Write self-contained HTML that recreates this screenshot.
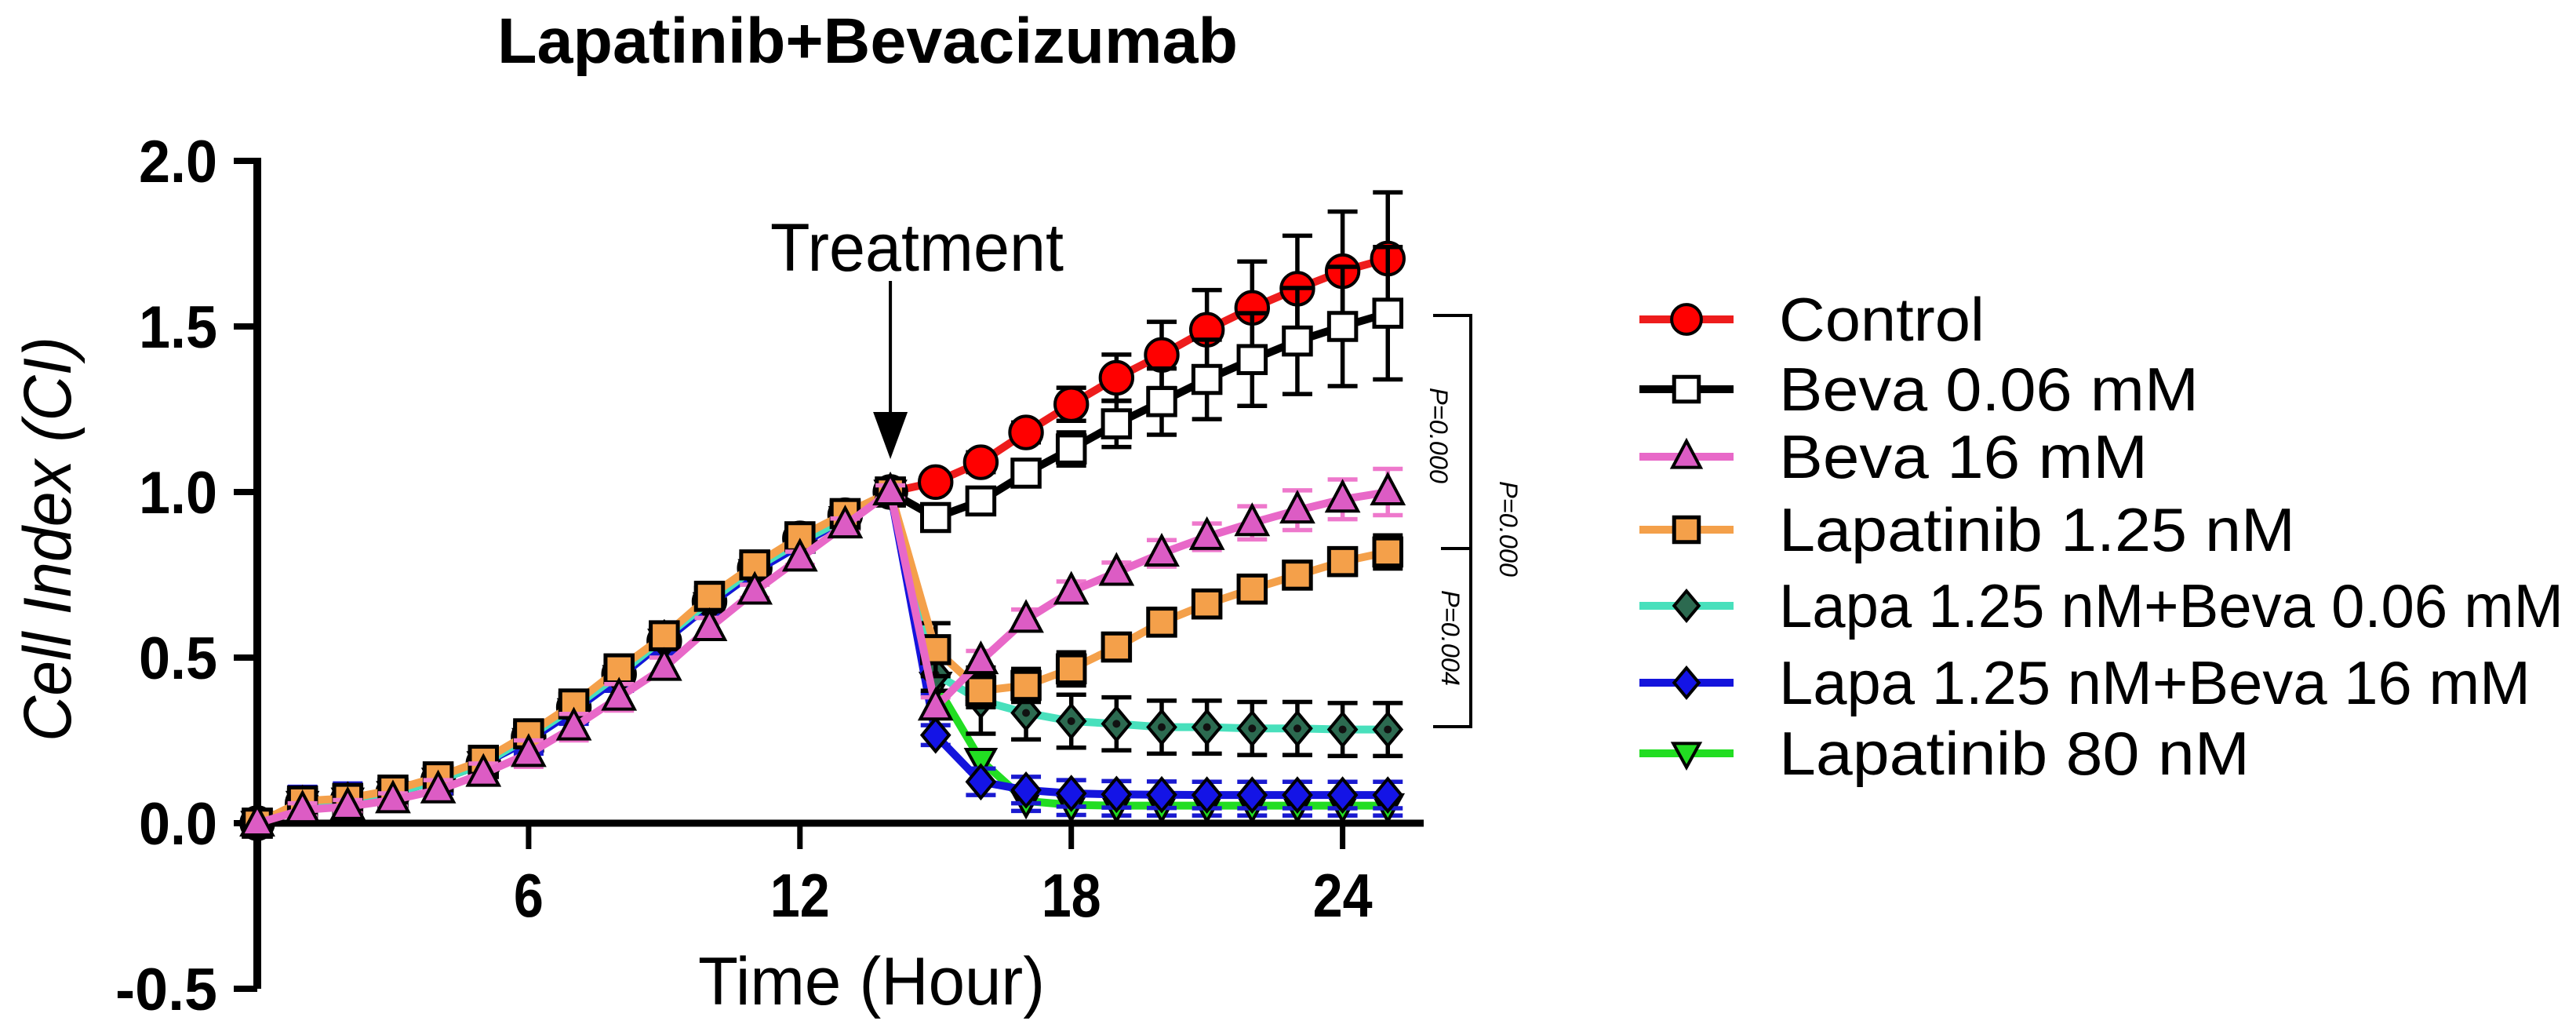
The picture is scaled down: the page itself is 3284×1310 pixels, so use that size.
<!DOCTYPE html>
<html><head><meta charset="utf-8">
<style>
html,body{margin:0;padding:0;background:#fff;}
svg{display:block;font-family:"Liberation Sans",sans-serif;}
</style></head>
<body>
<svg id="chart" width="3284" height="1310" viewBox="0 0 3284 1310" xmlns="http://www.w3.org/2000/svg">
<text x="1106" y="80" text-anchor="middle" font-size="82" font-weight="bold" textLength="944" lengthAdjust="spacingAndGlyphs">Lapatinib+Bevacizumab</text>
<g id="axes"></g>
<g id="series"></g>
<g id="annot"></g>
<g id="legend"></g>
</svg>
<script>
const hours = [0,1,2,3,4,5,6,7,8,9,10,11,12,13,14,15,16,17,18,19,20,21,22,23,24,25];
const yTicks = [-0.5,0,0.5,1.0,1.5,2.0];
const yTickLabels = ["-0.5","0.0","0.5","1.0","1.5","2.0"];
const xTicks = [6,12,18,24];
const xTickLabels = ["6","12","18","24"];
const seriesNames = ["Control","Beva 0.06 mM","Beva 16 mM","Lapatinib 1.25 nM","Lapa 1.25 nM+Beva 0.06 mM","Lapa 1.25 nM+Beva 16 mM","Lapatinib 80 nM"];
const controlVals = [0,0.06,0.07,0.09,0.13,0.18,0.26,0.35,0.45,0.55,0.67,0.77,0.86,0.93,1.0,1.03,1.09,1.18,1.265,1.345,1.414,1.49,1.556,1.614,1.667,1.705];
const controlErr  = [0,0.03,0.03,0.03,0.03,0.03,0.03,0.03,0.03,0.03,0.03,0.02,0.02,0.02,0.02,0.02,0.03,0.03,0.05,0.07,0.1,0.12,0.14,0.16,0.18,0.2];
const beva006Vals = [0,0.06,0.07,0.09,0.13,0.18,0.26,0.35,0.45,0.55,0.67,0.77,0.86,0.93,1.0,0.923,0.973,1.057,1.13,1.206,1.273,1.34,1.40,1.456,1.50,1.54];
const beva006Err  = [0,0.03,0.03,0.03,0.03,0.03,0.03,0.03,0.03,0.03,0.03,0.02,0.02,0.02,0.02,0.02,0.02,0.03,0.05,0.07,0.1,0.12,0.14,0.16,0.18,0.2];
const beva16Vals = [0,0.04,0.05,0.07,0.10,0.15,0.21,0.29,0.38,0.47,0.59,0.70,0.80,0.90,1.0,0.35,0.49,0.615,0.70,0.757,0.815,0.865,0.907,0.945,0.978,1.0];
const beva16Err  = [0,0.02,0.02,0.02,0.03,0.03,0.04,0.04,0.04,0.03,0.03,0.02,0.02,0.02,0.02,0.03,0.03,0.03,0.03,0.03,0.04,0.04,0.05,0.06,0.06,0.07];
const lapa125Vals = [0,0.067,0.075,0.10,0.14,0.19,0.27,0.36,0.466,0.566,0.685,0.78,0.865,0.935,1.0,0.524,0.40,0.416,0.466,0.532,0.607,0.662,0.707,0.749,0.79,0.819];
const lapa125Err  = [0,0.02,0.02,0.02,0.02,0.02,0.03,0.03,0.04,0.04,0.04,0.03,0.02,0.02,0.02,0.08,0.05,0.05,0.05,0.04,0.04,0.04,0.04,0.04,0.04,0.05];
const comboLowVals = [0,0.06,0.07,0.09,0.13,0.18,0.26,0.35,0.45,0.56,0.67,0.77,0.85,0.92,1.0,0.45,0.37,0.333,0.308,0.30,0.29,0.29,0.286,0.286,0.283,0.283];
const comboLowErr  = [0,0.03,0.03,0.03,0.03,0.03,0.03,0.03,0.03,0.03,0.03,0.02,0.02,0.02,0.02,0.05,0.1,0.08,0.08,0.08,0.08,0.08,0.08,0.08,0.08,0.08];
const comboHighVals = [0,0.06,0.07,0.09,0.13,0.18,0.25,0.34,0.44,0.55,0.66,0.76,0.84,0.92,1.0,0.266,0.125,0.10,0.09,0.087,0.086,0.085,0.085,0.085,0.085,0.085];
const comboHighErr  = [0,0.05,0.05,0.04,0.04,0.03,0.04,0.04,0.04,0.04,0.04,0.02,0.02,0.02,0.02,0.03,0.04,0.04,0.04,0.04,0.04,0.04,0.04,0.04,0.04,0.04];
const lapa80Vals = [0,0.06,0.07,0.09,0.13,0.18,0.25,0.34,0.44,0.55,0.66,0.76,0.84,0.92,1.0,0.42,0.19,0.067,0.055,0.053,0.053,0.053,0.053,0.053,0.053,0.053];
const lapa80Err  = [0,0.03,0.03,0.03,0.03,0.03,0.03,0.03,0.03,0.03,0.03,0.02,0.02,0.02,0.02,0.03,0.03,0.03,0.03,0.03,0.03,0.03,0.03,0.03,0.03,0.03];

const NS="http://www.w3.org/2000/svg";
const X0=328, PXH=57.65, Y0=1049, PXU=422;
function xs(h){return X0+h*PXH;}
function ys(v){return Y0-v*PXU;}
function mk(tag,attrs,parent){const e=document.createElementNS(NS,tag);for(const k in attrs)e.setAttribute(k,attrs[k]);parent.appendChild(e);return e;}

const axes=document.getElementById('axes');
let el=mk('line',{x1:X0,y1:ys(-0.5),x2:X0,y2:ys(2.0)-4,stroke:'#000','stroke-width':10},axes);


el=mk('line',{x1:X0,y1:Y0,x2:1815,y2:Y0,stroke:'#000','stroke-width':9},axes);


yTicks.forEach((v,i)=>{
  const t=mk('line',{x1:X0-30,y1:ys(v),x2:X0,y2:ys(v),stroke:'#000','stroke-width':8},axes);
  
  
  const l=mk('text',{x:277,y:ys(v)+27,'text-anchor':'end','font-size':76,'font-weight':'bold',textLength:(yTickLabels[i].length>3?130:100),lengthAdjust:'spacingAndGlyphs'},axes);
  l.textContent=yTickLabels[i];
  
  
});
xTicks.forEach((h,i)=>{
  const t=mk('line',{x1:xs(h),y1:Y0,x2:xs(h),y2:Y0+33,stroke:'#000','stroke-width':7},axes);
  
  
  const l=mk('text',{x:xs(h),y:1168,'text-anchor':'middle','font-size':78,'font-weight':'bold',textLength:(xTickLabels[i].length*38),lengthAdjust:'spacingAndGlyphs'},axes);
  l.textContent=xTickLabels[i];
  
  
});
el=mk('text',{x:1111,y:1280,'text-anchor':'middle','font-size':86,textLength:442,lengthAdjust:'spacingAndGlyphs'},axes);
el.textContent='Time (Hour)';


el=mk('text',{x:0,y:0,'text-anchor':'middle','font-size':86,'font-style':'italic',textLength:516,lengthAdjust:'spacingAndGlyphs',transform:'translate(90,687) rotate(-90)'},axes);
el.textContent='Cell Index (CI)';



const styles=[
 {vals:controlVals,err:controlErr,line:'#ee1c1c',fill:'#ff0000',shape:'circle',errc:'#000',key:'control'},
 {vals:beva006Vals,err:beva006Err,line:'#000',fill:'#fff',shape:'square',errc:'#000',key:'beva-0-06'},
 {vals:lapa80Vals,err:lapa80Err,line:'#22dd22',fill:'#22dd22',shape:'down',errc:'#1a1ad0',key:'lapatinib-80'},
 {vals:comboHighVals,err:comboHighErr,line:'#1414dc',fill:'#1414e6',shape:'diamond',errc:'#1a1ad0',key:'lapa-beva-16'},
 {vals:comboLowVals,err:comboLowErr,line:'#48e0bc',fill:'#2c6a50',shape:'diamond',errc:'#000',key:'lapa-beva-0-06'},
 {vals:lapa125Vals,err:lapa125Err,line:'#f4a04a',fill:'#f4a04a',shape:'square',errc:'#000',key:'lapatinib-1-25'},
 {vals:beva16Vals,err:beva16Err,line:'#e868c8',fill:'#dc5cc4',shape:'up',errc:'#ee78cc',key:'beva-16'}
];
function marker(shape,cx,cy,fill,parent,s){
  s=s||1.15;let m;
  if(shape==='circle') m=mk('circle',{cx:cx,cy:cy,r:18*s,fill:fill,stroke:'#000','stroke-width':4},parent);
  else if(shape==='square') m=mk('rect',{x:cx-15*s,y:cy-15*s,width:30*s,height:30*s,fill:fill,stroke:'#000','stroke-width':5},parent);
  else if(shape==='up') m=mk('polygon',{points:`${cx},${cy-19*s} ${cx+17*s},${cy+13*s} ${cx-17*s},${cy+13*s}`,fill:fill,stroke:'#000','stroke-width':4},parent);
  else if(shape==='down') m=mk('polygon',{points:`${cx},${cy+17*s} ${cx+16*s},${cy-12*s} ${cx-16*s},${cy-12*s}`,fill:fill,stroke:'#000','stroke-width':4},parent);
  else m=mk('polygon',{points:`${cx},${cy-18*s} ${cx+15*s},${cy} ${cx},${cy+18*s} ${cx-15*s},${cy}`,fill:fill,stroke:'#000','stroke-width':4},parent);
  return m;
}
const sl=document.getElementById('series');
styles.forEach(st=>{
  const g=mk('g',{},sl);
  
  
  hours.forEach((h,i)=>{
    if(st.err[i]<=0) return;
    const e=mk('path',{d:`M${xs(h)},${ys(st.vals[i]+st.err[i])}V${ys(st.vals[i]-st.err[i])}M${xs(h)-19},${ys(st.vals[i]+st.err[i])}h38M${xs(h)-19},${ys(st.vals[i]-st.err[i])}h38`,stroke:st.errc,'stroke-width':5.5,fill:'none'},g);
    
    
  });
  const pts=hours.map((h,i)=>xs(h)+','+ys(st.vals[i])).join(' ');
  const pl=mk('polyline',{points:pts,fill:'none',stroke:st.line,'stroke-width':10,'stroke-linejoin':'round'},g);
  
  
  hours.forEach((h,i)=>{
    const m=marker(st.shape,xs(h),ys(st.vals[i]),st.fill,g);
    
    
    if(st.key==='lapa-beva-0-06'){const c=mk('circle',{cx:xs(h),cy:ys(st.vals[i]),r:5,fill:'#111'},g);}
  });
});

const an=document.getElementById('annot');
el=mk('text',{x:1169,y:345,'text-anchor':'middle','font-size':86,textLength:374,lengthAdjust:'spacingAndGlyphs'},an);
el.textContent='Treatment';


el=mk('line',{x1:xs(14),y1:358,x2:xs(14),y2:540,stroke:'#000','stroke-width':4},an);


el=mk('polygon',{points:`${xs(14)-22},525 ${xs(14)+22},525 ${xs(14)},585`,fill:'#000'},an);


el=mk('path',{d:'M1827,402H1875V926H1827M1837,699H1875',fill:'none',stroke:'#000','stroke-width':4},an);


[[1823,555,'P=0.000','p-value-beva'],[1838,813,'P=0.004','p-value-lapa'],[1912,674,'P=0.000','p-value-overall']].forEach(p=>{
  const t=mk('text',{x:0,y:0,'text-anchor':'middle','font-size':32,'font-style':'italic',textLength:122,lengthAdjust:'spacingAndGlyphs',transform:`translate(${p[0]},${p[1]}) rotate(90)`},an);
  t.textContent=p[2];
  
  
});

const lg=document.getElementById('legend');
const legOrder=[0,1,6,5,4,3,2];
const legY=[407,496,582,675,772,870,960];
const legW=[262,535,470,658,1000,958,600];
legOrder.forEach((si,i)=>{
  const st=styles[si];
  const g=mk('g',{},lg);
  
  
  mk('line',{x1:2090,y1:legY[i],x2:2210,y2:legY[i],stroke:st.line,'stroke-width':10},g);
  marker(st.shape,2150,legY[i],st.fill,g,1.05);
  const t=mk('text',{x:2268,y:legY[i]+27,'font-size':78,textLength:legW[i],lengthAdjust:'spacingAndGlyphs'},g);
  t.textContent=seriesNames[i];
});
</script>
</body></html>
